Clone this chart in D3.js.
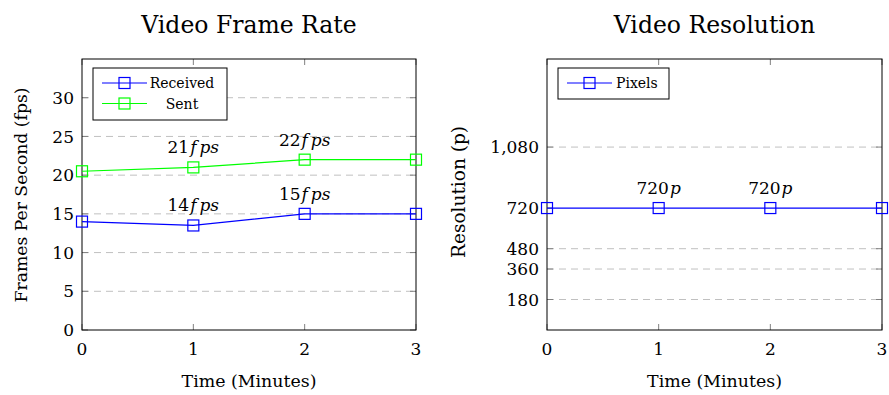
<!DOCTYPE html>
<html>
<head>
<meta charset="utf-8">
<script src="https://cdn.jsdelivr.net/npm/d3@7"></script>
<style>
  body { margin: 0; background: #fff; }
  text { font-family: "DejaVu Serif", serif; fill: #000; }
</style>
</head>
<body>
<div id="chart"></div>
<script>
const width = 889;
const height = 395;

// Data
const minutes = [0, 1, 2, 3];
const receivedFps = [14, 13.5, 15, 15];
const sentFps = [20.5, 21, 22, 22];
const pixels = [720, 720, 720, 720];
const fpsTicks = [0, 5, 10, 15, 20, 25, 30];
const resTicks = [180, 360, 480, 720, 1080];
const receivedLabels = ["", "14", "15", ""];
const sentLabels = ["", "21", "22", ""];
const pixelLabels = ["", "720", "720", ""];

const blue = "#0000ff";
const green = "#00ff00";
const gridColor = "#c0c0c0";

const svg = d3.select("#chart")
    .append("svg")
    .attr("width", width)
    .attr("height", height);

// scale a text's font size so it spans the wanted width
function fitText(sel, wanted) {
    const base = 16;
    sel.attr("font-size", base);
    const w = sel.node().getComputedTextLength();
    sel.attr("font-size", base * wanted / w);
}

function drawPanel(cfg) {
    const x = d3.scaleLinear().domain([0, 3]).range([cfg.left, cfg.right]);
    const y = d3.scaleLinear().domain(cfg.yDomain).range([330, 59]);
    const g = svg.append("g");

    // grid
    g.selectAll(".grid")
        .data(cfg.gridTicks)
        .enter().append("line")
        .attr("x1", cfg.left).attr("x2", cfg.right)
        .attr("y1", d => y(d)).attr("y2", d => y(d))
        .attr("stroke", gridColor)
        .attr("stroke-dasharray", "7,5");

    // y tick marks (left and right, inside)
    cfg.yTicks.forEach(t => {
        g.append("line").attr("x1", cfg.left).attr("x2", cfg.left + 6)
            .attr("y1", y(t)).attr("y2", y(t)).attr("stroke", "#808080");
        g.append("line").attr("x1", cfg.right - 6).attr("x2", cfg.right)
            .attr("y1", y(t)).attr("y2", y(t)).attr("stroke", "#808080");
    });
    // x tick marks (top and bottom, inside)
    minutes.forEach(t => {
        g.append("line").attr("x1", x(t)).attr("x2", x(t))
            .attr("y1", 330).attr("y2", 324).attr("stroke", "#808080");
        g.append("line").attr("x1", x(t)).attr("x2", x(t))
            .attr("y1", 59).attr("y2", 65).attr("stroke", "#808080");
    });

    // frame
    g.append("rect")
        .attr("x", cfg.left).attr("y", 59)
        .attr("width", cfg.right - cfg.left).attr("height", 271)
        .attr("fill", "none").attr("stroke", "#000").attr("stroke-width", 1);

    // tick labels
    g.selectAll(".ylab")
        .data(cfg.yTicks)
        .enter().append("text")
        .attr("x", cfg.left - 8)
        .attr("y", d => y(d))
        .attr("dy", "0.36em")
        .attr("text-anchor", "end")
        .attr("font-size", 17)
        .text(d => d3.format(",")(d));

    g.selectAll(".xlab")
        .data(minutes)
        .enter().append("text")
        .attr("x", d => x(d))
        .attr("y", 355)
        .attr("text-anchor", "middle")
        .attr("font-size", 17)
        .text(d => d);

    // titles
    g.append("text")
        .attr("x", (cfg.left + cfg.right) / 2)
        .attr("y", 33)
        .attr("text-anchor", "middle")
        .attr("font-size", 23.5)
        .text(cfg.title);

    const xt = g.append("text")
        .attr("x", (cfg.left + cfg.right) / 2)
        .attr("y", 387)
        .attr("text-anchor", "middle")
        .text("Time (Minutes)");
    fitText(xt, 135);

    const yt = g.append("text")
        .attr("transform", `translate(${cfg.yTitleX},${cfg.yTitleY}) rotate(-90)`)
        .attr("text-anchor", "middle")
        .text(cfg.yTitle);
    fitText(yt, cfg.yTitleWidth);

    // series
    const line = d3.line().x((d, i) => x(minutes[i])).y(d => y(d));
    cfg.series.forEach(s => {
        g.append("path")
            .datum(s.values)
            .attr("d", line)
            .attr("fill", "none")
            .attr("stroke", s.color)
            .attr("stroke-width", 1.2);
        g.selectAll(null)
            .data(s.values)
            .enter().append("rect")
            .attr("x", (d, i) => x(minutes[i]) - 5.5)
            .attr("y", d => y(d) - 5.5)
            .attr("width", 11).attr("height", 11)
            .attr("fill", "none")
            .attr("stroke", s.color)
            .attr("stroke-width", 1.2);
        const lbl = g.selectAll(null)
            .data(s.values.map((v, i) => ({ v, i, t: s.labels[i] })).filter(d => d.t))
            .enter().append("text")
            .attr("x", d => x(minutes[d.i]))
            .attr("y", d => y(d.v) - 14)
            .attr("text-anchor", "middle")
            .attr("font-size", 17);
        lbl.append("tspan").text(d => d.t);
        // math-style italic unit, with the gap TeX leaves after the f
        s.unit.forEach((u, k) => {
            lbl.append("tspan")
                .attr("font-style", "italic")
                .attr("dx", k > 0 ? 3 : 1)
                .text(u);
        });
    });

    // legend
    const lg = g.append("g");
    lg.append("rect")
        .attr("x", cfg.left + 11).attr("y", 68)
        .attr("width", cfg.legendWidth).attr("height", 10 + 21 * cfg.series.length)
        .attr("fill", "#fff").attr("stroke", "#000");
    cfg.series.forEach((s, k) => {
        const ly = 83 + 20.5 * k;
        const lx = cfg.left + 20;
        lg.append("line").attr("x1", lx).attr("x2", lx + 45)
            .attr("y1", ly).attr("y2", ly).attr("stroke", s.color).attr("stroke-width", 1.2);
        lg.append("rect").attr("x", lx + 22.5 - 5.5).attr("y", ly - 5.5)
            .attr("width", 11).attr("height", 11)
            .attr("fill", "none").attr("stroke", s.color).attr("stroke-width", 1.2);
        lg.append("text")
            .attr("x", cfg.legendTextX)
            .attr("y", ly)
            .attr("dy", "0.36em")
            .attr("text-anchor", cfg.legendAnchor)
            .attr("font-size", 14)
            .text(s.name);
    });
}

drawPanel({
    left: 82, right: 416,
    yDomain: [0, 35],
    yTicks: fpsTicks,
    gridTicks: fpsTicks.filter(d => d > 0),
    title: "Video Frame Rate",
    yTitle: "Frames Per Second (fps)",
    yTitleX: 27,
    yTitleY: 195,
    yTitleWidth: 215,
    legendWidth: 134,
    legendTextX: 182,
    legendAnchor: "middle",
    series: [
        { name: "Received", values: receivedFps, color: blue, labels: receivedLabels, unit: ["f", "ps"] },
        { name: "Sent", values: sentFps, color: green, labels: sentLabels, unit: ["f", "ps"] }
    ]
});

drawPanel({
    left: 547, right: 882,
    yDomain: [0, 1600],
    yTicks: resTicks,
    gridTicks: resTicks.filter(d => d !== 720),
    title: "Video Resolution",
    yTitle: "Resolution (p)",
    yTitleX: 465,
    yTitleY: 192,
    yTitleWidth: 132,
    legendWidth: 111,
    legendTextX: 616,
    legendAnchor: "start",
    series: [
        { name: "Pixels", values: pixels, color: blue, labels: pixelLabels, unit: ["p"] }
    ]
});
</script>
</body>
</html>
